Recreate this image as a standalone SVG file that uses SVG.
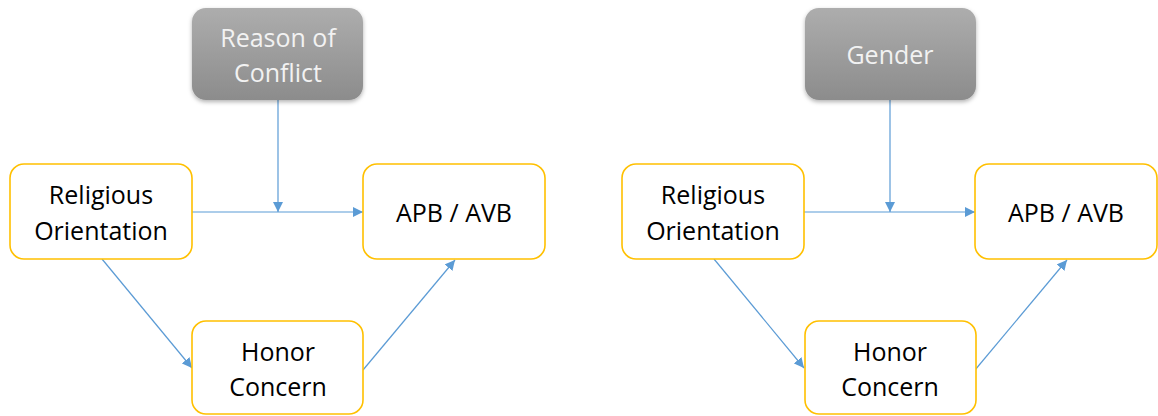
<svg xmlns="http://www.w3.org/2000/svg" width="1158" height="416" viewBox="0 0 1158 416">
<style>
.box{fill:#ffffff;stroke:#ffc000;stroke-width:1.6}
.gbox{fill:url(#gg);filter:url(#sh)}
.t{font-family:"Open Sans","Liberation Sans",sans-serif;font-size:25px;fill:#000;text-anchor:middle}
.tw{font-family:"Open Sans","Liberation Sans",sans-serif;font-size:25px;fill:#f2f2f2;text-anchor:middle}
.c{stroke:#5b9bd5;stroke-width:1.2;fill:none;marker-end:url(#ah)}
</style>
<defs>
<linearGradient id="gg" x1="0" y1="0" x2="0" y2="1">
<stop offset="0" stop-color="#adadad"/>
<stop offset="1" stop-color="#8c8c8c"/>
</linearGradient>
<filter id="sh" x="-10%" y="-10%" width="120%" height="130%">
<feDropShadow dx="0" dy="2" stdDeviation="2" flood-color="#000" flood-opacity="0.3"/>
</filter>
<marker id="ah" viewBox="0 0 10 10" refX="10" refY="5" markerWidth="10" markerHeight="10" markerUnits="userSpaceOnUse" orient="auto">
<path d="M0,0 L10,5 L0,10 z" fill="#5b9bd5"/>
</marker>
</defs>
<g id="connectors">
<line class="c" x1="192" y1="212" x2="363" y2="212"/>
<line class="c" x1="278" y1="100" x2="278" y2="212"/>
<line class="c" x1="102" y1="259" x2="192" y2="368"/>
<line class="c" x1="363" y1="370" x2="455" y2="260"/>
<line class="c" x1="804" y1="212" x2="975" y2="212"/>
<line class="c" x1="890" y1="100" x2="890" y2="212"/>
<line class="c" x1="714" y1="259" x2="804" y2="368"/>
<line class="c" x1="975" y1="370" x2="1067" y2="260"/>
</g>
<g id="reason">
<rect class="gbox" x="192" y="8" width="171" height="92" rx="14"/>
<text class="tw" x="278" y="47">Reason of</text>
<text class="tw" x="278" y="82">Conflict</text>
</g>
<g id="religious1">
<rect class="box" x="10" y="164" width="182" height="95" rx="14"/>
<text class="t" x="101" y="204">Religious</text>
<text class="t" x="101" y="240">Orientation</text>
</g>
<g id="apb1">
<rect class="box" x="363" y="164" width="182" height="95" rx="14"/>
<text class="t" x="454" y="222">APB / AVB</text>
</g>
<g id="honor1">
<rect class="box" x="192" y="321" width="171" height="93" rx="14"/>
<text class="t" x="278" y="361">Honor</text>
<text class="t" x="278" y="396">Concern</text>
</g>
<g id="gender">
<rect class="gbox" x="805" y="8" width="171" height="92" rx="14"/>
<text class="tw" x="890" y="64">Gender</text>
</g>
<g id="religious2">
<rect class="box" x="622" y="164" width="182" height="95" rx="14"/>
<text class="t" x="713" y="204">Religious</text>
<text class="t" x="713" y="240">Orientation</text>
</g>
<g id="apb2">
<rect class="box" x="975" y="164" width="182" height="95" rx="14"/>
<text class="t" x="1066" y="222">APB / AVB</text>
</g>
<g id="honor2">
<rect class="box" x="805" y="321" width="171" height="93" rx="14"/>
<text class="t" x="890" y="361">Honor</text>
<text class="t" x="890" y="396">Concern</text>
</g>
</svg>
